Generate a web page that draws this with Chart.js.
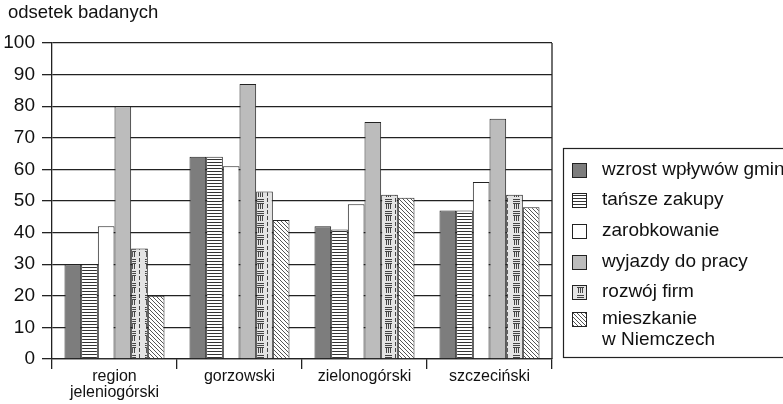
<!DOCTYPE html>
<html>
<head>
<meta charset="utf-8">
<script src="https://cdn.jsdelivr.net/npm/chart.js@4.4.1/dist/chart.umd.min.js"></script>
<style>
  html, body { margin: 0; padding: 0; background: #fff; }
  #wrap { width: 783px; height: 404px; }
</style>
</head>
<body>
<div id="wrap"><canvas id="chart" width="783" height="404"></canvas></div>
<script>
const categories = [['region', 'jeleniogórski'], 'gorzowski', 'zielonogórski', 'szczeciński'];
const seriesNames = ['wzrost wpływów gmin', 'tańsze zakupy', 'zarobkowanie', 'wyjazdy do pracy', 'rozwój firm', ['mieszkanie', 'w Niemczech']];
const wzrostWplywow = [30, 64, 42, 47];
const tanszeZakupy = [30, 64, 41, 47];
const zarobkowanie = [42, 61, 49, 56];
const wyjazdyDoPracy = [80, 87, 75, 76];
const rozwojFirm = [35, 53, 52, 52];
const mieszkanieWNiemczech = [20, 44, 51, 48];
const yMin = 0, yMax = 100, yStep = 10;
const yTitle = 'odsetek badanych';

const FONT = '"Liberation Sans", Arial, sans-serif';
const INK = '#222';

const canvas = document.getElementById('chart');
const ctx = canvas.getContext('2d');

function makePattern(w, h, draw) {
  const tile = document.createElement('canvas');
  tile.width = w;
  tile.height = h;
  const g = tile.getContext('2d');
  draw(g);
  return ctx.createPattern(tile, 'repeat');
}

// horizontal stripes
const stripes = makePattern(3, 3, g => {
  g.fillStyle = '#fff'; g.fillRect(0, 0, 3, 3);
  g.fillStyle = '#333'; g.fillRect(0, 0, 3, 1);
});
// diagonal hatching "\"
const hatch = makePattern(4, 4, g => {
  g.fillStyle = '#fff'; g.fillRect(0, 0, 4, 4);
  g.fillStyle = '#555';
  for (let i = 0; i < 4; i++) g.fillRect(i, i, 1, 1);
});
// light grid of short verticals and dashes
const blocks = makePattern(16, 12, g => {
  g.fillStyle = '#e4e4e4'; g.fillRect(0, 0, 16, 12);
  g.fillStyle = '#444';
  [2, 4, 6].forEach(x => g.fillRect(x, 0, 1, 5));
  [7, 9, 11].forEach(y => g.fillRect(1, y, 7, 1));
  g.fillRect(11, 0, 1, 4);
  g.fillRect(11, 6, 1, 4);
});

const fills = ['#7d7d7d', stripes, '#ffffff', '#bcbcbc', blocks, hatch];
const values = [wzrostWplywow, tanszeZakupy, zarobkowanie, wyjazdyDoPracy, rozwojFirm, mieszkanieWNiemczech];

const frame = {
  id: 'frame',
  afterDraw(chart) {
    const c = chart.ctx;
    const a = chart.chartArea;
    c.save();
    // right border of plot
    c.strokeStyle = INK;
    c.lineWidth = 1.3;
    c.beginPath();
    c.moveTo(a.right, a.top);
    c.lineTo(a.right, a.bottom);
    c.stroke();
    // axis title
    c.fillStyle = '#111';
    c.font = '18.5px ' + FONT;
    c.textBaseline = 'alphabetic';
    c.textAlign = 'left';
    c.fillText(yTitle, 8, 18);
    // legend box
    c.lineWidth = 1.2;
    c.strokeRect(563.5, 148.5, 240, 209);
    c.font = '19px ' + FONT;
    const rows = [170, 200, 231, 262, 292, 319];
    chart.data.datasets.forEach((ds, i) => {
      const cy = rows[i];
      c.fillStyle = ds.backgroundColor;
      c.fillRect(572, cy - 7, 15, 15);
      c.strokeStyle = INK;
      c.lineWidth = 1;
      c.strokeRect(572.5, cy - 6.5, 14, 14);
      c.fillStyle = '#111';
      c.textBaseline = 'middle';
      const lines = Array.isArray(ds.label) ? ds.label : [ds.label];
      lines.forEach((t, k) => c.fillText(t, 602, cy + k * 21));
    });
    c.restore();
  }
};

new Chart(ctx, {
  type: 'bar',
  data: {
    labels: categories,
    datasets: values.map((v, i) => ({
      label: seriesNames[i],
      data: v,
      backgroundColor: fills[i],
      borderColor: INK,
      borderWidth: 1
    }))
  },
  options: {
    responsive: false,
    animation: false,
    devicePixelRatio: 1,
    layout: { padding: { top: 43, right: 231, left: 0, bottom: 0 } },
    datasets: { bar: { categoryPercentage: 0.8, barPercentage: 1.0 } },
    plugins: {
      legend: { display: false },
      tooltip: { enabled: false },
      title: { display: false }
    },
    scales: {
      x: {
        offset: true,
        grid: { offset: true, drawOnChartArea: false, color: INK, lineWidth: 1.3, tickLength: 10 },
        border: { display: true, color: INK, width: 1.3 },
        ticks: { color: '#111', padding: 0, maxRotation: 0, font: { family: FONT, size: 16, lineHeight: 1.0 } },
        afterFit(scale) { scale.height = 45; }
      },
      y: {
        min: yMin,
        max: yMax,
        grid: { color: INK, lineWidth: 1.3, tickLength: 10 },
        border: { display: true, color: INK, width: 1.3 },
        ticks: { stepSize: yStep, color: '#111', padding: 7, font: { family: FONT, size: 19 } },
        afterFit(scale) { scale.width = 52; }
      }
    }
  },
  plugins: [frame]
});
</script>
</body>
</html>
